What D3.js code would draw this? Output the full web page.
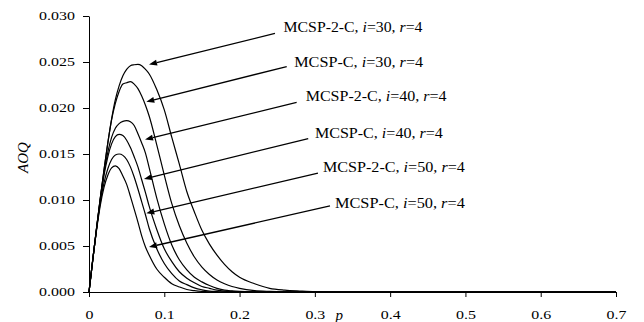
<!DOCTYPE html>
<html>
<head>
<meta charset="utf-8">
<script src="https://cdn.jsdelivr.net/npm/d3@7"></script>
<style>
  body { margin: 0; background: #fff; }
  svg { display: block; font-family: "Liberation Serif", "Times New Roman", serif; }
  .axis path, .axis line { stroke: #000; stroke-width: 1; }
  .curve { fill: none; stroke: #000; stroke-width: 1.2; }
</style>
</head>
<body>
<svg id="chart" width="644" height="322"></svg>
<script>
// fraction defective p
const pValues = [0, 0.005, 0.01, 0.015, 0.02, 0.025, 0.03, 0.035, 0.04, 0.045, 0.05, 0.055, 0.06, 0.065, 0.07, 0.075, 0.08,
  0.09, 0.10, 0.11, 0.12, 0.13, 0.14, 0.15, 0.16, 0.17, 0.18, 0.19, 0.20, 0.22, 0.24, 0.26, 0.28, 0.30, 0.35, 0.40, 0.50, 0.60, 0.70];

// AOQ
const aoq2C30 = [0, .0035, .0069, .0102, .0133, .0162, .0188, .0209, .0224, .0235, .0242, .0246, .0247, .02475, .0246, .0242, .0237,
  .0220, .0198, .0168, .0139, .0109, .0087, .0067, .0052, .0040, .0030, .0022, .0016, .0009, .0004, .0002, .0001, .00003, 0, 0, 0, 0, 0];
const aoqC30 = [0, .0035, .0069, .0102, .0133, .0162, .0187, .0205, .0218, .0226, .02275, .02286, .0226, .0221, .0213, .0203, .0191,
  .0160, .0127, .0096, .0072, .0053, .0038, .0027, .0019, .0013, .0009, .0006, .0004, .00016, .00007, .00002, 0, 0, 0, 0, 0, 0, 0];
const aoq2C40 = [0, .0035, .0069, .0101, .0130, .0152, .0168, .0178, .0183, .01855, .01862, .0185, .0181, .0172, .0162, .0151, .0135,
  .0102, .0074, .0051, .0035, .0024, .0016, .0011, .0007, .0004, .0002, .00012, .00007, .00002, 0, 0, 0, 0, 0, 0, 0, 0, 0];
const aoqC40 = [0, .0035, .0069, .0100, .0127, .0147, .0161, .0169, .01714, .0170, .0165, .0157, .0147, .0136, .0122, .0108, .0093,
  .0068, .0047, .0033, .0022, .0015, .0010, .0006, .0004, .0002, .0001, .00006, .00003, 0, 0, 0, 0, 0, 0, 0, 0, 0, 0];
const aoq2C50 = [0, .0035, .0068, .0097, .0119, .0134, .0144, .0149, .0150, .01485, .0144, .0136, .0125, .0112, .0098, .0084, .0069,
  .0047, .0031, .0020, .0012, .0008, .00045, .00024, .0001, .00005, .00002, 0, 0, 0, 0, 0, 0, 0, 0, 0, 0, 0, 0];
const aoqC50 = [0, .0035, .0067, .0094, .0114, .0127, .0135, .01372, .0134, .0126, .0117, .0104, .0090, .0076, .0061, .0049, .0040,
  .0025, .0016, .0009, .00055, .00027, .00014, .00006, .00002, 0, 0, 0, 0, 0, 0, 0, 0, 0, 0, 0, 0, 0, 0];

const seriesList = [aoq2C30, aoqC30, aoq2C40, aoqC40, aoq2C50, aoqC50];

const xTicks = [0, 0.1, 0.2, 0.3, 0.4, 0.5, 0.6, 0.7];
const yTicks = [0, 0.005, 0.010, 0.015, 0.020, 0.025, 0.030];

// annotations (data coordinates)
const labelPlans = ['MCSP-2-C', 'MCSP-C', 'MCSP-2-C', 'MCSP-C', 'MCSP-2-C', 'MCSP-C'];
const labelI = [30, 30, 40, 40, 50, 50];
const labelR = [4, 4, 4, 4, 4, 4];
const labelP = [0.2584, 0.2726, 0.2878, 0.3001, 0.3108, 0.3267];
const labelAOQ = [0.02823, 0.02449, 0.02076, 0.01671, 0.01299, 0.00913];
const labelWidth = [139, 129, 141, 128, 142, 130];
const tailP = [0.2470, 0.2626, 0.2758, 0.2912, 0.3041, 0.3201];
const tailAOQ = [0.02810, 0.02451, 0.02060, 0.01668, 0.01293, 0.00935];
const tipP = [0.0797, 0.0761, 0.0744, 0.0730, 0.0761, 0.0797];
const tipAOQ = [0.02473, 0.02068, 0.01658, 0.01228, 0.00855, 0.00489];

const svg = d3.select('#chart');
const margin = { left: 89, top: 16 };
const plotW = 527, plotH = 276;

const x = d3.scaleLinear().domain([0, 0.7]).range([0, plotW]);
const y = d3.scaleLinear().domain([0, 0.030]).range([plotH, 0]);

const g = svg.append('g').attr('transform', `translate(${margin.left}, ${margin.top})`);

// 坐标轴
const tickStretch = 1.33;
const yAxis = g.append('g').attr('class', 'axis')
  .call(d3.axisLeft(y).tickValues(yTicks).tickFormat(d3.format('.3f')).tickSize(6).tickSizeOuter(0));
yAxis.selectAll('text')
  .attr('x', -14 / tickStretch)
  .attr('transform', `scale(${tickStretch},1)`)
  .style('font-size', '12px')
  .style('font-family', '"Liberation Serif", serif')
  .attr('fill', '#000');

const xAxis = g.append('g').attr('class', 'axis').attr('transform', `translate(0, ${plotH})`)
  .call(d3.axisBottom(x).tickValues(xTicks).tickFormat(d => d === 0 ? '0' : d3.format('.1f')(d)).tickSize(5).tickSizeOuter(0));
xAxis.selectAll('text')
  .attr('y', 27)
  .attr('dy', null)
  .attr('transform', `scale(${tickStretch},1)`)
  .style('font-size', '12px')
  .style('font-family', '"Liberation Serif", serif')
  .attr('fill', '#000');

// 轴标题
g.append('text')
  .attr('transform', `translate(${-66}, ${141.5}) rotate(-90)`)
  .attr('text-anchor', 'middle')
  .attr('dy', '0.35em')
  .style('font-size', '15px')
  .style('font-style', 'italic')
  .text('AOQ');

g.append('text')
  .attr('x', x(0.3325))
  .attr('y', plotH + 28)
  .attr('text-anchor', 'middle')
  .style('font-size', '15px')
  .style('font-style', 'italic')
  .text('p');

// 曲线
const line = d3.line()
  .x((d, i) => x(pValues[i]))
  .y(d => y(d))
  .curve(d3.curveMonotoneX);

g.selectAll('.curve')
  .data(seriesList)
  .enter()
  .append('path')
  .attr('class', 'curve')
  .attr('d', line);

// 标注箭头
const arrows = g.append('g').attr('class', 'arrows');
labelPlans.forEach((plan, i) => {
  const x1 = x(tailP[i]), y1 = y(tailAOQ[i]);
  const x2 = x(tipP[i]), y2 = y(tipAOQ[i]);
  const len = Math.hypot(x2 - x1, y2 - y1);
  const ux = (x2 - x1) / len, uy = (y2 - y1) / len;
  const headL = 8, headW = 3;
  const bx = x2 - ux * headL, by = y2 - uy * headL;
  arrows.append('line')
    .attr('x1', x1).attr('y1', y1)
    .attr('x2', bx).attr('y2', by)
    .attr('stroke', '#000')
    .attr('stroke-width', 1.3);
  arrows.append('path')
    .attr('d', `M${x2},${y2}L${bx - uy * headW},${by + ux * headW}L${bx + uy * headW},${by - ux * headW}Z`)
    .attr('fill', '#000');

  const lg = g.append('g').attr('transform', `translate(${x(labelP[i])}, ${y(labelAOQ[i])})`);
  const t = lg.append('text').style('font-size', '15px');
  t.append('tspan').text(`${plan}, `);
  t.append('tspan').style('font-style', 'italic').text('i');
  t.append('tspan').text(`=${labelI[i]}, `);
  t.append('tspan').style('font-style', 'italic').text('r');
  t.append('tspan').text(`=${labelR[i]}`);
  const natural = t.node().getComputedTextLength();
  t.attr('transform', `scale(${labelWidth[i] / natural},1)`);
});
</script>
</body>
</html>
